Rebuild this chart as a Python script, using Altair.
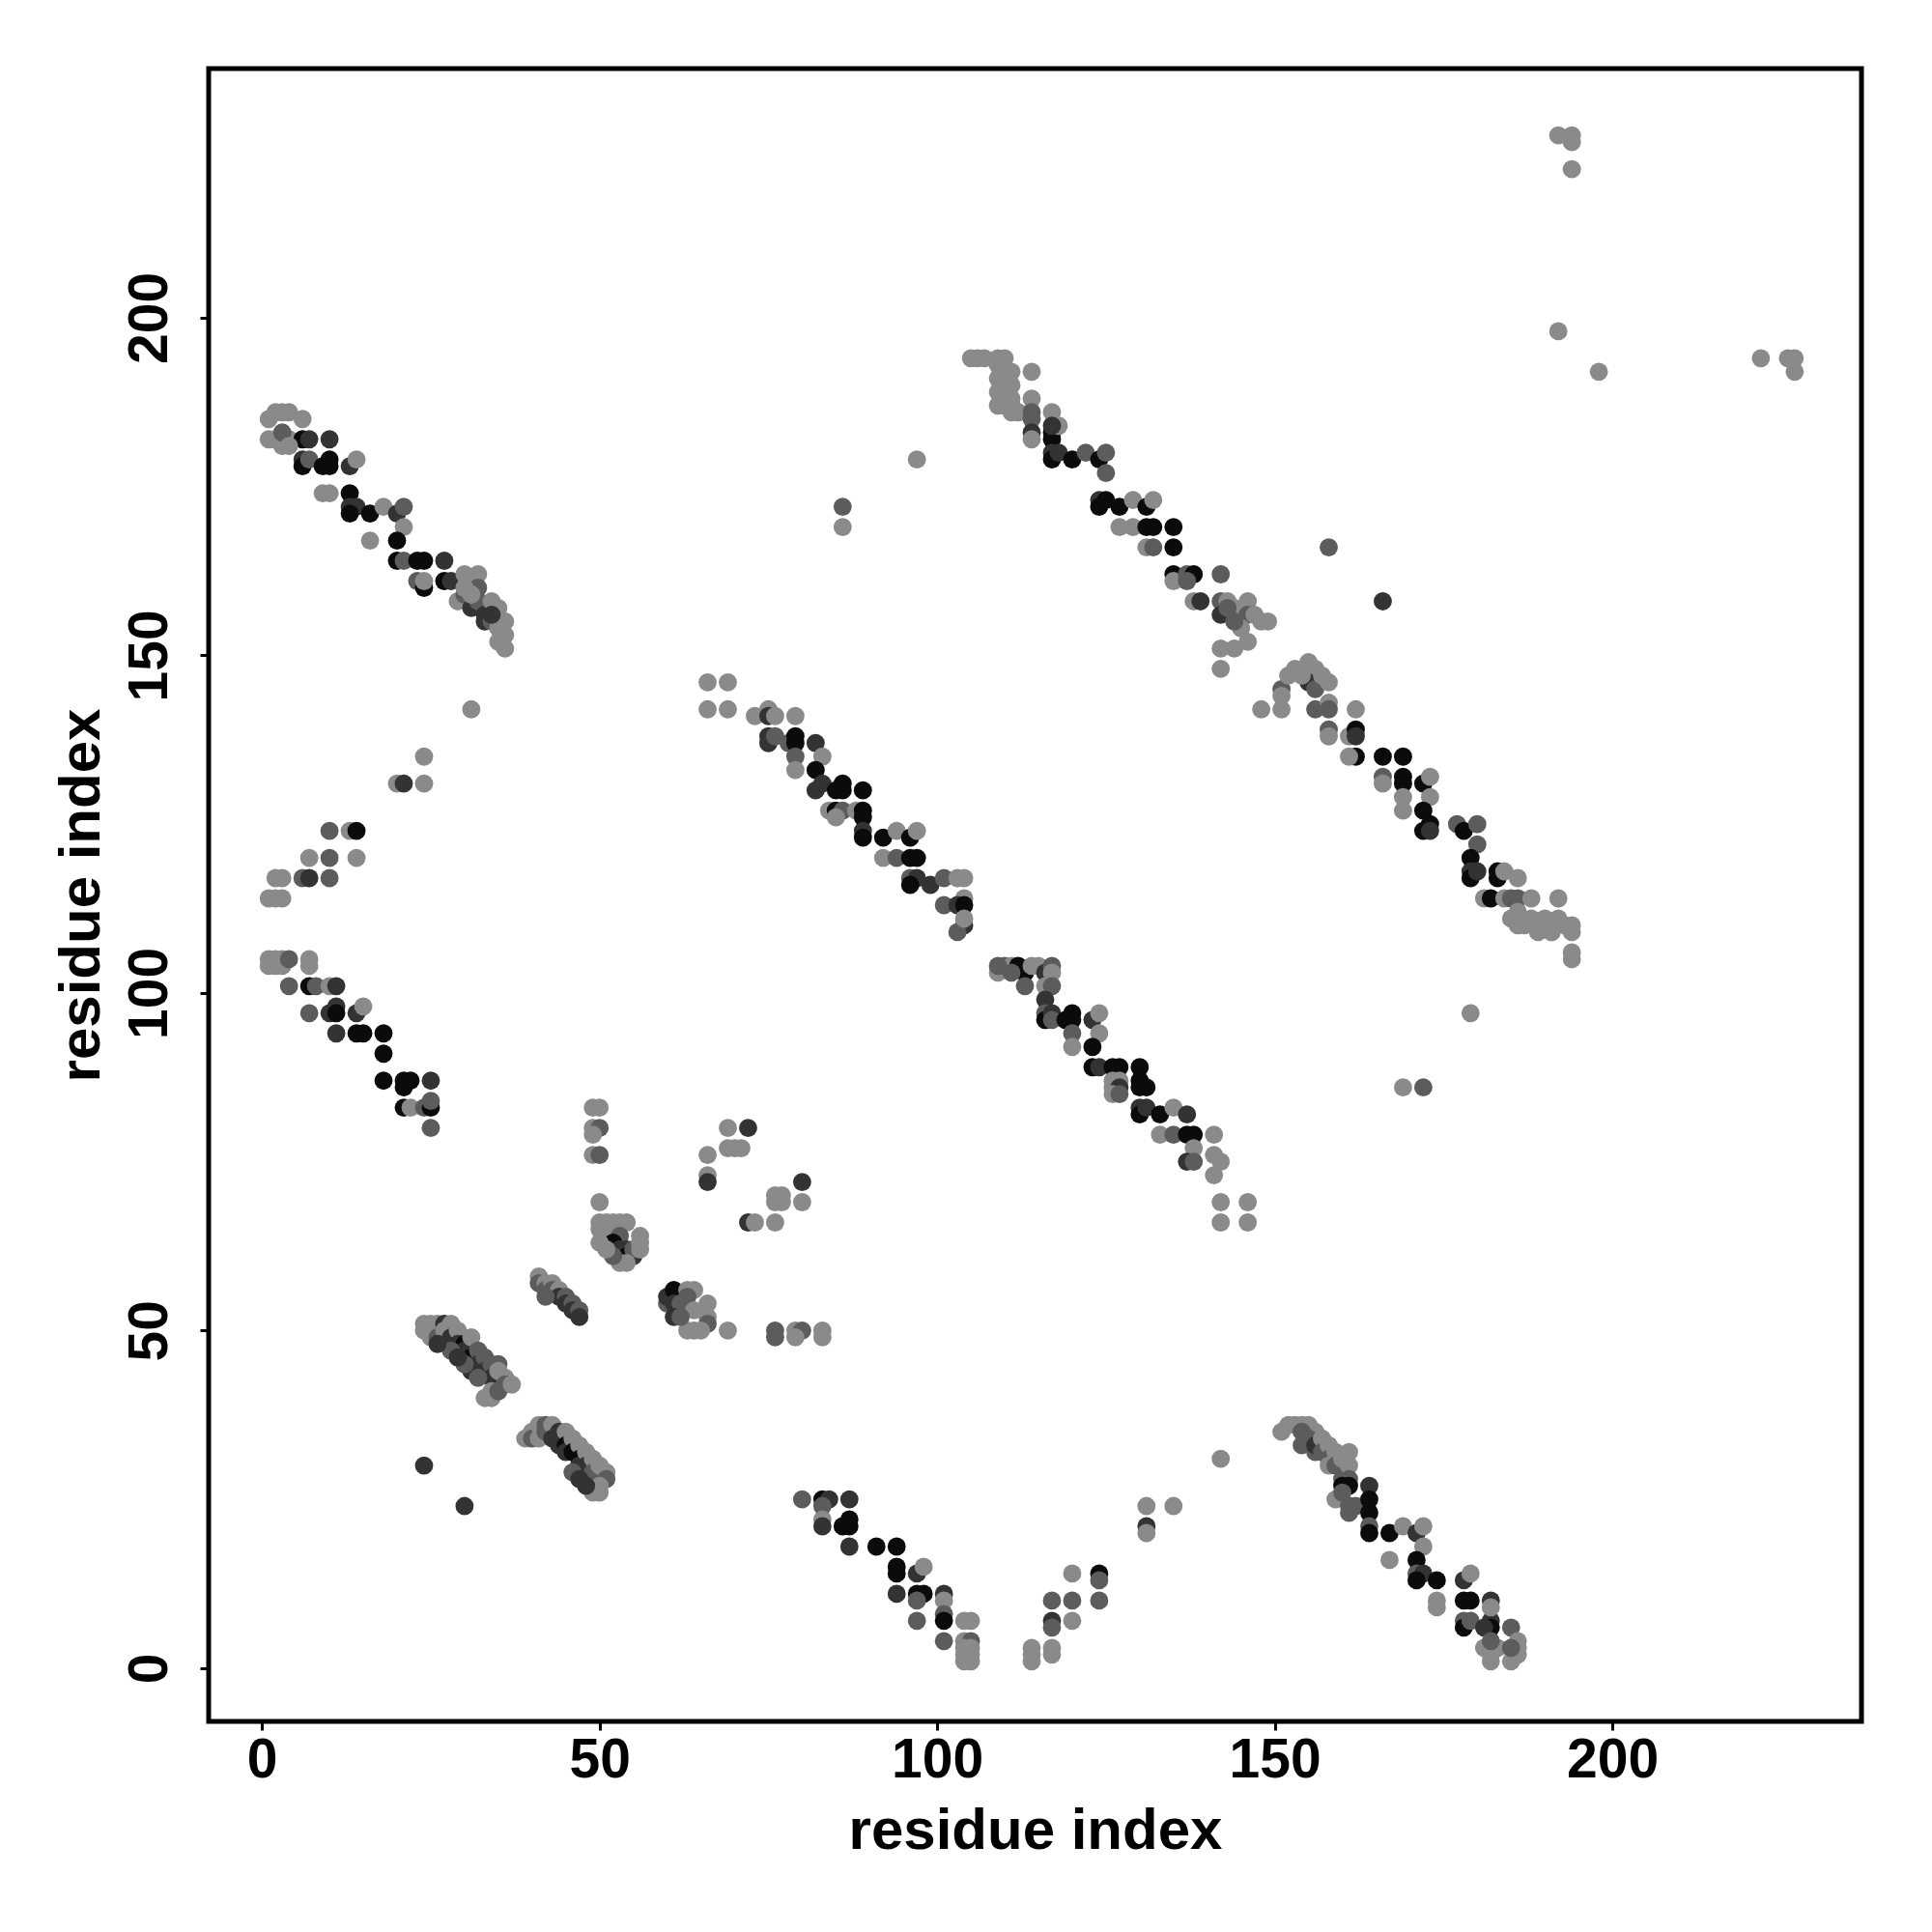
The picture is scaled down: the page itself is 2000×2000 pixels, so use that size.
import altair as alt
import pandas as pd

# contacts: (residue i, residue j, shade)  shade: L light, M mid, D dark, B black
diag_top_left = [
    (1,185,"L"),(2,186,"L"),(3,186,"L"),(4,186,"L"),(6,185,"L"),(1,182,"L"),(2,182,"L"),(3,181,"L"),(4,182,"L"),(3,183,"M"),
    (6,182,"B"),(7,182,"D"),(10,182,"D"),(4,181,"L"),
    (6,179,"D"),(6,178,"B"),(7,179,"M"),(9,178,"B"),(10,179,"B"),(10,178,"B"),(13,178,"D"),(14,179,"L"),
    (9,174,"L"),(10,174,"L"),(13,174,"B"),
    (13,172,"D"),(14,172,"D"),(13,171,"B"),(16,171,"B"),(18,172,"L"),(20,171,"D"),(21,172,"M"),
    (21,169,"L"),(16,167,"L"),(20,167,"B"),
    (20,164,"B"),(21,164,"M"),(23,164,"B"),(24,164,"B"),(27,164,"D"),
    (23,161,"M"),(24,160,"B"),(24,161,"L"),(27,161,"B"),(28,161,"D"),(30,162,"L"),(32,162,"L"),(31,161,"L"),
    (29,158,"L"),(30,159,"M"),(31,157,"D"),(32,158,"M"),(33,156,"D"),(33,155,"D"),(34,158,"L"),(34,155,"M"),
    (35,157,"L"),(35,154,"L"),(36,155,"L"),(36,153,"L"),(35,152,"L"),(36,151,"L"),(34,156,"D"),(32,160,"M"),
    (31,159,"L"),(30,160,"L"),
    (31,142,"L"),(24,135,"L"),
]

left_middle = [
    (20,131,"L"),(21,131,"D"),(24,131,"L"),
    (10,124,"M"),(13,124,"L"),(14,124,"B"),
    (7,120,"L"),(10,120,"M"),(14,120,"L"),
    (2,117,"L"),(3,117,"L"),(6,117,"M"),(7,117,"D"),(10,117,"M"),
    (1,114,"L"),(2,114,"L"),(3,114,"L"),
    (1,105,"L"),(1,104,"L"),(2,105,"L"),(2,104,"L"),(3,104,"L"),(3,105,"L"),(4,105,"M"),(7,105,"L"),(7,104,"L"),
    (4,101,"M"),(7,101,"B"),(8,101,"M"),(10,101,"L"),(11,101,"D"),
    (7,97,"M"),(10,97,"D"),(11,98,"D"),(11,97,"B"),(14,97,"D"),(15,98,"L"),
    (11,94,"D"),(14,94,"B"),(15,94,"B"),(18,94,"B"),
    (18,91,"B"),
    (18,87,"B"),(21,87,"B"),(21,86,"B"),(22,87,"B"),(25,87,"D"),
    (21,83,"B"),(22,83,"L"),(24,83,"M"),(25,83,"B"),(25,84,"M"),
    (25,80,"M"),
]

bottom_left = [
    (49,83,"L"),(50,83,"L"),(49,80,"L"),(50,80,"M"),(49,79,"L"),(49,76,"L"),(50,76,"M"),(50,69,"L"),
    (50,66,"L"),(51,66,"L"),(52,66,"L"),(53,66,"L"),(54,66,"L"),(50,65,"L"),(51,64,"L"),(52,65,"L"),(53,64,"M"),
    (52,63,"B"),(53,62,"D"),(54,62,"D"),(55,61,"D"),(54,61,"B"),(55,62,"M"),(56,63,"L"),(56,64,"L"),(56,62,"L"),
    (53,60,"L"),(54,60,"L"),(52,61,"M"),(51,62,"L"),(50,63,"L"),
    (41,58,"L"),(41,57,"M"),(42,57,"L"),(42,56,"M"),(43,57,"L"),(43,56,"M"),(44,56,"L"),(44,55,"D"),(45,55,"M"),
    (45,54,"D"),(46,54,"M"),(46,53,"D"),(47,53,"M"),(47,52,"D"),(42,55,"M"),
    (60,54,"M"),(60,55,"D"),(61,56,"B"),(61,54,"D"),(62,53,"B"),(62,54,"M"),(63,56,"L"),(64,56,"L"),(63,55,"M"),
    (64,53,"L"),(66,54,"L"),(66,52,"L"),(66,51,"M"),(64,50,"L"),(63,50,"L"),(65,50,"L"),(69,50,"L"),(61,52,"D"),(62,52,"M"),
    (76,50,"M"),(76,49,"M"),(79,50,"L"),(80,50,"M"),(79,49,"L"),(83,50,"L"),(83,49,"L"),
    (69,80,"L"),(72,80,"D"),(69,77,"L"),(70,77,"L"),(71,77,"L"),(66,76,"L"),(66,73,"L"),(66,72,"D"),(80,72,"D"),
    (76,70,"L"),(77,70,"L"),(76,69,"L"),(77,69,"L"),(80,69,"L"),(72,66,"D"),(73,66,"L"),(76,66,"L"),
    (24,51,"L"),(24,50,"L"),(25,51,"L"),(25,49,"L"),(26,51,"L"),(26,49,"M"),(27,51,"D"),(27,50,"L"),(28,51,"L"),
    (28,49,"D"),(29,50,"L"),(29,48,"D"),(30,48,"B"),(30,47,"D"),(31,46,"B"),(31,49,"L"),(32,47,"M"),(32,45,"D"),
    (33,46,"M"),(33,44,"D"),(34,45,"M"),(34,43,"D"),(35,45,"M"),(35,44,"L"),(36,43,"L"),(36,42,"M"),(34,41,"L"),
    (33,40,"L"),(34,40,"L"),(31,44,"D"),(32,43,"M"),(30,45,"M"),(35,41,"M"),(37,42,"L"),(28,47,"M"),(29,46,"D"),(26,48,"D"),
    (39,34,"L"),(40,35,"L"),(40,34,"M"),(41,36,"L"),(41,34,"L"),(42,36,"M"),(42,35,"M"),(43,36,"L"),(43,34,"D"),
    (44,35,"D"),(44,33,"D"),(45,35,"L"),(45,33,"B"),(45,32,"D"),(46,34,"L"),(46,32,"B"),(47,33,"L"),(47,31,"B"),
    (47,30,"D"),(48,32,"L"),(48,30,"D"),(49,31,"L"),(49,29,"M"),(50,30,"L"),(51,29,"L"),(51,28,"M"),(50,27,"L"),
    (49,26,"L"),(50,26,"L"),(48,27,"D"),(46,29,"M"),(47,28,"D"),
    (24,30,"D"),(30,24,"D"),
]

bottom_middle = [
    (80,25,"M"),(83,25,"B"),(84,25,"D"),(87,25,"D"),(83,24,"M"),(83,22,"L"),(83,21,"D"),(86,21,"B"),(87,22,"B"),(87,21,"B"),
    (87,18,"D"),(91,18,"B"),(94,18,"B"),
    (94,15,"B"),(94,14,"B"),(97,14,"D"),(98,15,"L"),
    (94,11,"D"),(97,11,"B"),(98,11,"B"),(97,10,"M"),(101,11,"D"),(101,10,"L"),
    (101,8,"M"),(101,7,"B"),(97,7,"M"),(104,7,"L"),(105,7,"L"),
    (101,4,"M"),(104,4,"L"),(105,4,"M"),(104,3,"L"),(105,3,"L"),(104,1,"L"),(105,1,"L"),(104,2,"L"),(105,2,"L"),
    (114,3,"L"),(114,1,"L"),(114,2,"L"),(117,3,"L"),(117,2,"L"),
    (117,10,"M"),(120,10,"M"),(117,7,"D"),(117,6,"M"),(120,7,"L"),
    (120,14,"L"),(124,14,"B"),(124,13,"M"),(124,10,"M"),
    (131,24,"L"),(131,21,"D"),(131,20,"L"),(135,24,"L"),(142,31,"L"),
]

bottom_right = [
    (151,35,"L"),(152,36,"L"),(153,36,"L"),(154,36,"L"),(155,36,"L"),(156,35,"L"),(154,35,"M"),(154,33,"M"),(155,34,"M"),
    (156,32,"M"),(156,33,"D"),(157,34,"L"),(157,32,"M"),(158,33,"L"),(158,31,"M"),(158,30,"L"),(159,32,"L"),(159,30,"M"),
    (160,31,"L"),(160,28,"M"),(161,32,"L"),(161,30,"L"),(161,28,"M"),(160,27,"B"),(161,27,"B"),(159,25,"L"),(161,24,"M"),
    (161,23,"M"),(162,24,"M"),(160,26,"M"),
    (164,27,"D"),(164,25,"B"),(164,23,"B"),(164,21,"M"),(164,20,"B"),(167,20,"B"),
    (169,21,"L"),(171,20,"D"),(172,21,"L"),(172,18,"L"),(167,16,"L"),
    (171,16,"B"),(171,14,"M"),(172,14,"D"),(171,13,"B"),(174,13,"B"),(174,10,"L"),(174,9,"L"),
    (178,13,"D"),(179,14,"L"),(178,10,"B"),(179,10,"B"),(178,7,"M"),(178,6,"B"),(179,7,"M"),
    (182,10,"D"),(182,7,"D"),(182,6,"B"),(182,9,"L"),(181,6,"D"),
    (185,6,"M"),(186,4,"L"),(186,3,"L"),(185,1,"L"),(182,1,"L"),(181,3,"L"),(183,3,"L"),(182,2,"L"),(186,2,"L"),
    (185,3,"M"),(182,4,"M"),
]

diag_middle = [
    (66,146,"L"),(69,146,"L"),(66,142,"L"),(69,142,"L"),
    (73,141,"L"),(75,142,"L"),(75,141,"D"),(76,141,"L"),(79,141,"L"),
    (75,138,"D"),(75,137,"D"),(76,138,"M"),(78,137,"M"),(79,138,"B"),(79,137,"B"),(79,135,"M"),(79,133,"L"),(82,137,"D"),(83,135,"L"),
    (82,133,"B"),(82,130,"D"),(83,131,"D"),(85,130,"B"),(86,131,"B"),(86,130,"B"),(89,130,"B"),
    (84,127,"L"),(85,127,"B"),(86,127,"M"),(88,127,"L"),(89,127,"B"),(89,126,"B"),(85,126,"L"),
    (89,124,"D"),(89,123,"B"),(92,123,"B"),(94,124,"L"),(96,123,"B"),(97,124,"L"),
    (92,120,"L"),(94,120,"M"),(96,120,"B"),(97,120,"B"),
    (96,117,"M"),(97,117,"D"),(96,116,"B"),(99,116,"D"),(101,117,"M"),(103,117,"L"),(104,117,"L"),(104,114,"L"),
    (101,113,"M"),(103,113,"D"),(104,113,"B"),(104,110,"D"),(103,109,"M"),(104,111,"L"),
    (109,103,"L"),(110,104,"M"),(111,104,"L"),(112,104,"B"),(113,103,"B"),(114,104,"L"),(115,104,"L"),(116,103,"D"),
    (117,104,"M"),(117,103,"L"),(111,103,"M"),(109,104,"M"),
    (113,101,"M"),(116,101,"L"),(117,101,"M"),
    (116,99,"D"),(116,97,"M"),(116,96,"B"),(117,97,"D"),(117,96,"M"),
    (119,96,"B"),(120,97,"B"),(120,96,"B"),(120,94,"M"),(120,92,"L"),(123,96,"D"),(124,97,"L"),(124,94,"L"),(123,92,"B"),
    (123,89,"B"),(124,89,"D"),(126,89,"B"),(127,89,"B"),(130,89,"B"),
    (126,87,"L"),(127,87,"L"),(126,86,"L"),(127,86,"D"),(126,85,"L"),(127,85,"M"),(130,87,"B"),(130,86,"B"),(131,86,"B"),
    (130,83,"D"),(130,82,"B"),(131,83,"D"),(133,82,"B"),(135,83,"L"),(137,82,"D"),
    (133,79,"L"),(135,79,"M"),(137,79,"B"),(138,79,"B"),(141,79,"L"),
    (138,77,"L"),(137,75,"D"),(138,75,"M"),(141,76,"L"),(142,75,"L"),(141,73,"L"),
    (142,69,"L"),(146,69,"L"),(142,66,"L"),(146,66,"L"),
]

diag_top_right = [
    (105,194,"L"),(106,194,"L"),(107,194,"L"),(109,194,"L"),(110,194,"L"),(109,193,"L"),(110,192,"L"),(111,192,"L"),
    (109,191,"L"),(110,190,"L"),(111,190,"L"),(109,189,"L"),(110,188,"L"),(111,188,"L"),(110,187,"L"),(111,186,"L"),
    (112,186,"L"),(114,192,"L"),(109,187,"L"),(111,187,"L"),
    (114,188,"L"),(114,186,"M"),(114,185,"M"),(114,183,"D"),(114,182,"L"),(117,186,"L"),(117,183,"B"),(117,182,"B"),
    (118,184,"L"),(117,184,"D"),
    (117,180,"D"),(117,179,"B"),(118,180,"D"),(120,179,"B"),(122,180,"M"),(124,179,"B"),(125,180,"M"),(125,177,"M"),
    (124,173,"D"),(125,173,"B"),(124,172,"B"),(127,172,"B"),(129,173,"L"),(131,172,"B"),(132,173,"L"),
    (127,169,"L"),(129,169,"L"),(131,169,"B"),(132,169,"B"),(135,169,"B"),
    (131,166,"L"),(132,166,"M"),(135,166,"B"),
    (135,162,"B"),(135,161,"L"),(137,162,"M"),(138,162,"B"),(137,161,"M"),(142,162,"M"),
    (138,158,"L"),(139,158,"D"),(142,158,"M"),(143,158,"L"),(142,156,"D"),(146,158,"L"),(144,157,"L"),(146,156,"M"),
    (147,156,"L"),(149,155,"L"),(142,151,"L"),(144,151,"L"),(146,152,"L"),(142,148,"L"),(145,154,"L"),(144,155,"M"),
    (148,155,"L"),(143,157,"M"),
    (148,142,"L"),(151,142,"L"),
    (151,145,"M"),(151,144,"L"),(152,147,"L"),(153,148,"L"),(155,149,"L"),(156,148,"L"),(155,146,"D"),(156,145,"M"),
    (158,146,"L"),(156,142,"M"),(158,143,"L"),(158,142,"M"),(162,142,"L"),(154,147,"L"),(157,147,"L"),
    (158,139,"M"),(158,138,"L"),(161,138,"L"),(162,139,"B"),(162,138,"D"),(162,135,"B"),(161,135,"L"),
    (166,135,"B"),(169,135,"B"),(166,132,"M"),(166,131,"L"),(169,132,"B"),(169,131,"B"),(169,129,"L"),(169,127,"L"),
    (172,131,"B"),(173,132,"L"),(173,129,"L"),(172,127,"B"),(173,125,"B"),(172,124,"B"),(173,124,"D"),
    (177,125,"M"),(178,124,"B"),(180,125,"M"),(180,122,"M"),(179,120,"B"),(179,118,"D"),(179,117,"B"),(180,118,"D"),
    (183,118,"B"),(183,117,"B"),(184,118,"L"),(186,117,"L"),
    (181,114,"L"),(182,114,"B"),(184,114,"L"),(185,114,"M"),(186,114,"M"),(188,114,"L"),(192,114,"L"),
    (185,111,"L"),(186,112,"L"),(187,110,"L"),(189,110,"L"),(190,110,"L"),(191,109,"L"),(193,110,"L"),(194,110,"L"),
    (189,109,"L"),(191,109,"L"),(188,111,"L"),(192,111,"L"),(190,111,"L"),(186,110,"L"),(194,109,"L"),
    (194,106,"L"),(194,105,"L"),
]

isolated = [
    (97,179,"L"),(86,172,"M"),(86,169,"L"),(158,166,"M"),(166,158,"D"),(179,97,"L"),(169,86,"L"),(172,86,"M"),
    (192,227,"L"),(194,227,"L"),(194,226,"L"),(194,222,"L"),(192,198,"L"),(198,192,"L"),
    (222,194,"L"),(226,194,"L"),(227,194,"L"),(227,192,"L"),
]

groups = [diag_top_left, left_middle, bottom_left, bottom_middle, bottom_right,
          diag_middle, diag_top_right, isolated]
rows = [{"i": a, "j": b, "shade": s} for g in groups for (a, b, s) in g]
df = pd.DataFrame(rows)

shade_domain = ["L", "M", "D", "B"]
shade_range = ["#8a8a8a", "#5c5c5c", "#333333", "#0b0b0b"]
ticks = [0, 50, 100, 150, 200]
dom = [-7.9, 236.9]
FONT = "Liberation Sans"

chart = alt.Chart(df).mark_circle(size=355, opacity=1).encode(
    x=alt.X("i:Q", scale=alt.Scale(domain=dom, nice=False, zero=False),
            axis=alt.Axis(values=ticks, title="residue index", labelPadding=3,
                          titleY=131, titleBaseline="alphabetic", titleAlign="center")),
    y=alt.Y("j:Q", scale=alt.Scale(domain=dom, nice=False, zero=False),
            axis=alt.Axis(values=ticks, title="residue index", labelAngle=270,
                          labelAlign="center", labelBaseline="bottom", labelPadding=23,
                          titleAngle=270, titleX=-114, titleY=855.5,
                          titleBaseline="alphabetic", titleAlign="center")),
    color=alt.Color("shade:N", scale=alt.Scale(domain=shade_domain, range=shade_range), legend=None),
).properties(
    width=1711, height=1711,
    autosize=alt.AutoSizeParams(type="none"),
    padding={"left": 208, "top": 63, "right": 60, "bottom": 160},
).configure_view(
    stroke="black", strokeWidth=5
).configure_axis(
    grid=False, domain=False,
    labelFont=FONT, labelFontWeight="bold", labelFontSize=57, labelColor="black",
    titleFont=FONT, titleFontWeight="bold", titleFontSize=60, titleColor="black",
    tickColor="black", tickSize=9, tickWidth=3,
)

chart.save("out.html", embed_options={"renderer": "svg", "actions": False})
